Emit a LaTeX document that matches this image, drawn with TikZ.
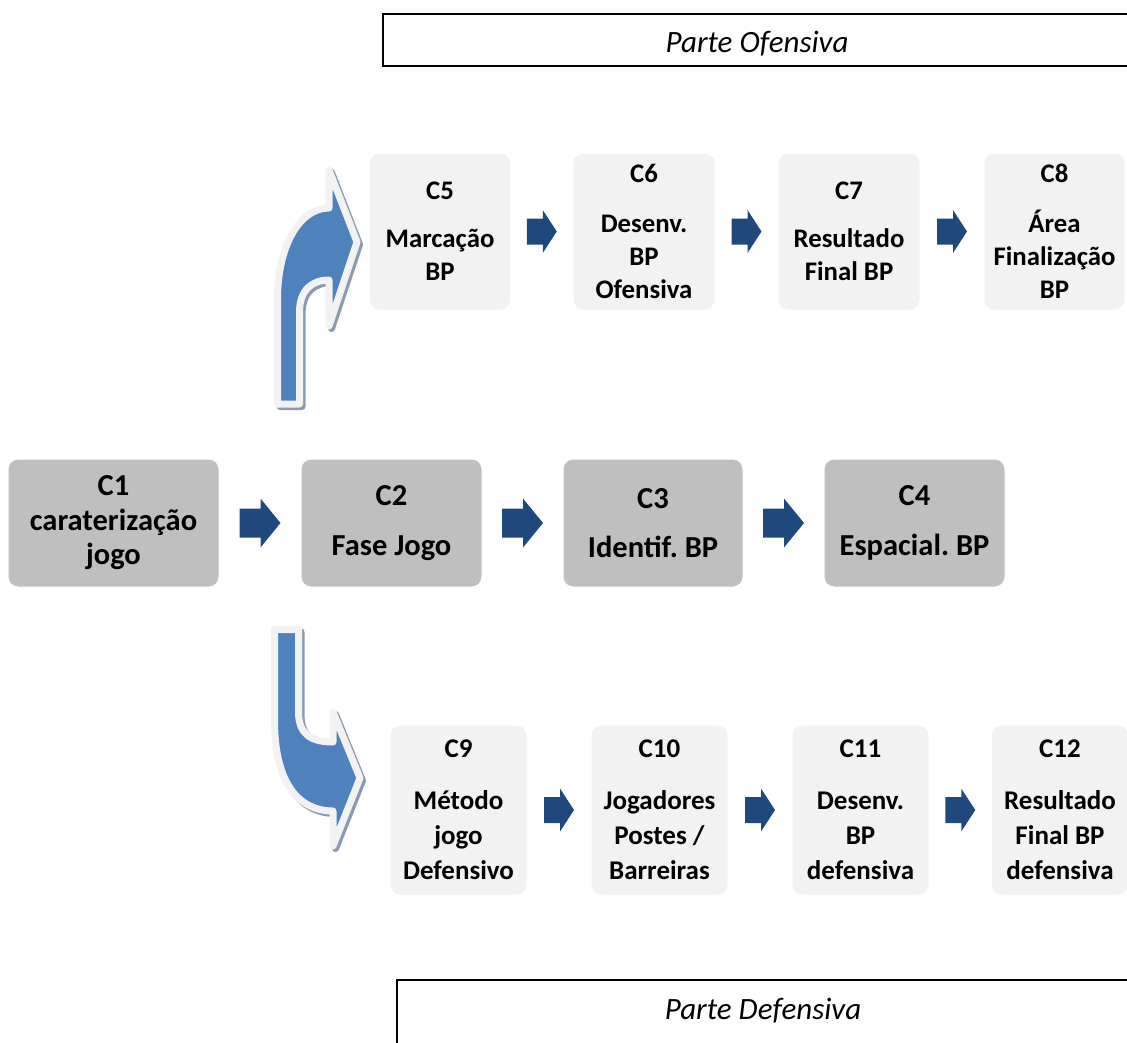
\documentclass[tikz,border=0pt]{standalone}
\usepackage{fontspec}
\setmainfont{Carlito}
\usetikzlibrary{calc}
\frenchspacing
\definecolor{boxdark}{HTML}{BFBFBF}
\definecolor{boxlight}{HTML}{F2F2F2}
\definecolor{arrdark}{HTML}{1F497D}
\definecolor{arrblue}{HTML}{4F81BD}
\definecolor{arroutline}{HTML}{F2F2F2}
\definecolor{arrshadow}{HTML}{8A9AB0}
\tikzset{
  mainbox/.style={rounded corners=10pt, fill=boxdark, draw=white, line width=1pt,
    inner sep=0pt, minimum height=128pt, align=center,
    font=\bfseries\fontsize{30.5}{34.5}\selectfont},
  topbox/.style={rounded corners=10pt, fill=boxlight, draw=white, line width=1pt,
    inner sep=0pt, minimum width=141pt, minimum height=157pt, align=center,
    font=\bfseries\fontsize{26.8}{33}\selectfont},
  botbox/.style={rounded corners=10pt, fill=boxlight, draw=white, line width=1pt,
    inner sep=0pt, minimum width=137pt, minimum height=170pt, align=center,
    font=\bfseries\fontsize{27}{35}\selectfont},
  hdrbox/.style={draw=black, line width=1.5pt, fill=white, inner sep=0pt},
  hdrtext/.style={inner sep=0pt, font=\itshape\fontsize{31}{34}\selectfont},
  bigflow/.style={fill=arrblue, draw=arroutline, line width=7pt, line join=round},
  bigshadow/.style={fill=arrshadow, draw=arrshadow, line width=7pt, line join=round},
  bigarr/.pic={\fill[arrdark] (-20.5,-14.5) -- (0.5,-14.5) -- (0.5,-24.5) -- (20.5,0)
      -- (0.5,24.5) -- (0.5,14.5) -- (-20.5,14.5) -- cycle;},
  smallarr/.pic={\fill[arrdark] (-15,-13) -- (1,-13) -- (1,-21.5) -- (15,0)
      -- (1,21.5) -- (1,13) -- (-15,13) -- cycle;}
}
\begin{document}
\begin{tikzpicture}[x=1pt,y=-1pt]
\useasboundingbox (0,0) rectangle (1127,1042);
\clip (0,0) rectangle (1127,1042);

% header boxes
\node[hdrbox, minimum width=748pt, minimum height=52pt] (ofe) at (757,40) {};
\node[hdrtext] (ofetxt) at ($(ofe.center)+(0,4)$) {Parte Ofensiva};
\node[hdrbox, minimum width=732pt, minimum height=66pt] (def) at (763,1013) {};
\node[hdrtext] (deftxt) at ($(def.center)+(0,-2)$) {Parte Defensiva};

% middle row
\node[mainbox, minimum width=211pt] (c1) at (113.5,523) {C1\\caraterização\\jogo};
\node[mainbox, minimum width=181pt] (c2) at (391.5,523) {C2\\[15pt]Fase Jogo};
\node[mainbox, minimum width=180pt] (c3) at (653,523) {C3\\[15pt]Identif. BP};
\node[mainbox, minimum width=181pt] (c4) at (914.5,523) {C4\\[15pt]Espacial. BP};

% top row
\node[topbox] (c5) at (440,231.5) {C5\\[15pt]Marcação\\BP};
\node[topbox, minimum width=142pt] (c6) at (644,231.5) {C6\\[17pt]Desenv.\\BP\\Ofensiva};
\node[topbox, minimum width=142pt] (c7) at (849,231.5) {C7\\[15pt]Resultado\\Final BP};
\node[topbox] (c8) at (1054.5,231.5) {C8\\[17pt]Área\\Finalização\\BP};

% bottom row
\node[botbox] (c9) at (458.5,810) {C9\\[17pt]Método\\jogo\\Defensivo};
\node[botbox] (c10) at (659.5,810) {C10\\[17pt]Jogadores\\Postes /\\Barreiras};
\node[botbox] (c11) at (860.5,810) {C11\\[17pt]Desenv.\\BP\\defensiva};
\node[botbox] (c12) at (1060,810) {C12\\[17pt]Resultado\\Final BP\\defensiva};

% block arrows between boxes
\pic at ($(c1.east)!0.5!(c2.west)$) {bigarr};
\pic at ($(c2.east)!0.5!(c3.west)$) {bigarr};
\pic at ($(c3.east)!0.5!(c4.west)$) {bigarr};
\pic at ($(c5.east)!0.5!(c6.west)$) {smallarr};
\pic at ($(c6.east)!0.5!(c7.west)$) {smallarr};
\pic at ($(c7.east)!0.5!(c8.west)$) {smallarr};
\pic at ($(c9.east)!0.5!(c10.west)$) {smallarr};
\pic at ($(c10.east)!0.5!(c11.west)$) {smallarr};
\pic at ($(c11.east)!0.5!(c12.west)$) {smallarr};

% curved arrow up (to offensive part)
\begin{scope}[shift={(2.5,2.5)}]
\path[bigshadow] (277.5,404) -- (277.5,300) .. controls (277.5,245) and (300,208) .. (329,208)
  -- (329,170) -- (357,242) -- (329,326) -- (329,280)
  .. controls (312,280) and (299.5,290) .. (299.5,312) -- (299.5,404) -- cycle;
\end{scope}
\path[bigflow] (277.5,404) -- (277.5,300) .. controls (277.5,245) and (300,208) .. (329,208)
  -- (329,170) -- (357,242) -- (329,326) -- (329,280)
  .. controls (312,280) and (299.5,290) .. (299.5,312) -- (299.5,404) -- cycle;

% curved arrow down (to defensive part)
\begin{scope}[shift={(2.5,2.5)}]
\path[bigshadow] (274.5,629.5) -- (274.5,720) .. controls (274.5,785) and (300,811) .. (333,811)
  -- (333,846) -- (360,778) -- (333,712) -- (333,742)
  .. controls (312,742) and (298.5,735) .. (298.5,712) -- (298.5,629.5) -- cycle;
\end{scope}
\path[bigflow] (274.5,629.5) -- (274.5,720) .. controls (274.5,785) and (300,811) .. (333,811)
  -- (333,846) -- (360,778) -- (333,712) -- (333,742)
  .. controls (312,742) and (298.5,735) .. (298.5,712) -- (298.5,629.5) -- cycle;
\end{tikzpicture}
\end{document}
